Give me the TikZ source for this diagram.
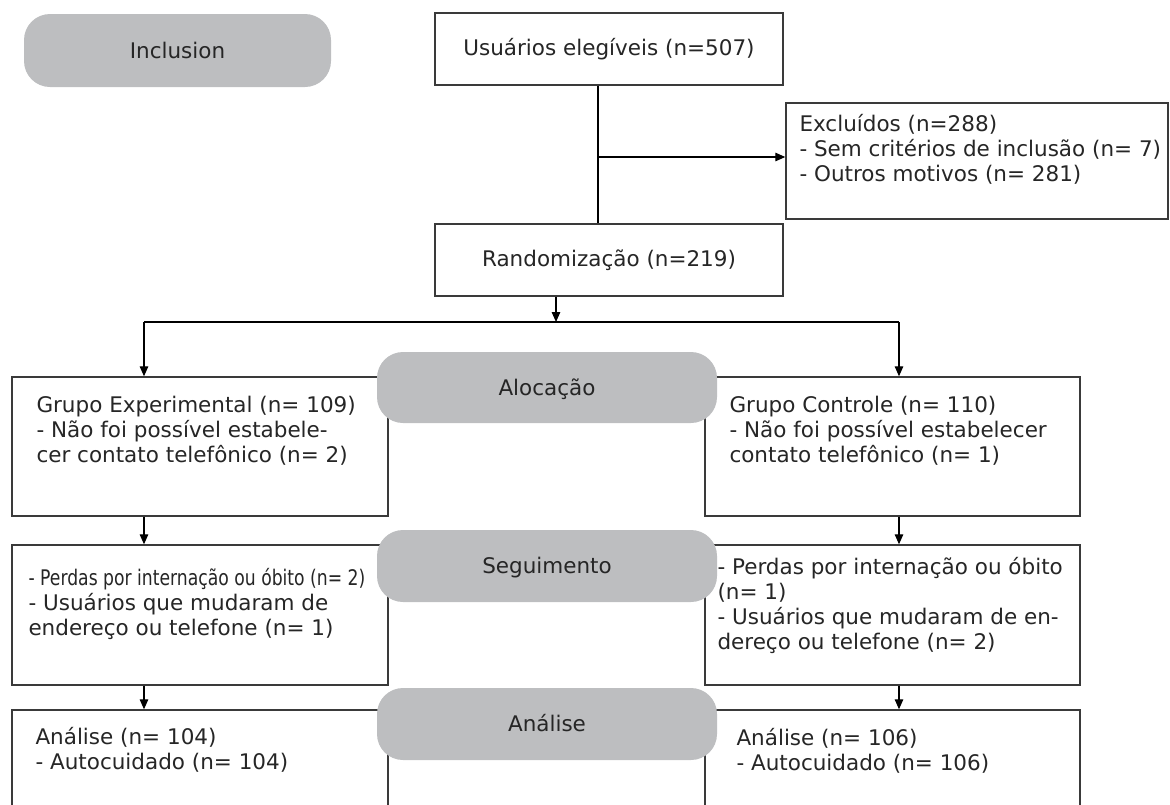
\documentclass[tikz,border=0pt]{standalone}
\usepackage{fontspec}
\setmainfont{DejaVu Sans}
\usepackage{graphicx}
\usetikzlibrary{arrows.meta,positioning}
\definecolor{pillgray}{HTML}{BDBEC0}
\definecolor{inkgray}{HTML}{3A3A3A}
\definecolor{txtgray}{HTML}{262626}
\newcommand{\flowfont}{\fontsize{21.5}{25}\selectfont}
\tikzset{
  box_n/.style = {draw=inkgray, line width=1.4pt, fill=white, inner sep=0pt,
    text=txtgray, font=\flowfont},
  pill_n/.style = {fill=pillgray, rounded corners=26pt, inner sep=0pt,
    text=txtgray, font=\flowfont, text height=18pt, text depth=3pt},
  note_n/.style = {anchor=north west, inner sep=0pt, align=left, text=txtgray,
    font=\flowfont, execute at begin node={\rule{0pt}{20pt}}},
  conn/.style = {draw=black, line width=1.3pt}}

\begin{document}
\begin{tikzpicture}[x=1pt, y=-1pt, >={Triangle[length=10pt,width=8.5pt]}]
\useasboundingbox (0,0) rectangle (1170,804);

\node [box_n, minimum width=348pt, minimum height=72pt] (elig) at (609,49) {Usuários elegíveis (n=507)};
\node [box_n, minimum width=382pt, minimum height=116pt] (excl) at (977,161) {};
\node [box_n, minimum width=348pt, minimum height=72pt] (rand) at (609,260) {Randomização (n=219)};

\node [box_n, minimum width=376pt, minimum height=139pt] (gexp) at (200,446.5) {};
\node [box_n, minimum width=375pt, minimum height=139pt] (gctl) at (892.5,446.5) {};
\node [box_n, minimum width=376pt, minimum height=140pt] (pexp) at (200,615) {};
\node [box_n, minimum width=375pt, minimum height=140pt] (pctl) at (892.5,615) {};
\node [box_n, minimum width=376pt, minimum height=140pt] (aexp) at (200,780) {};
\node [box_n, minimum width=375pt, minimum height=140pt] (actl) at (892.5,780) {};

\node [note_n, below right=12pt and 14pt of excl.north west] (excl_t)
  {Excluídos (n=288)\\- Sem critérios de inclusão (n= 7)\\- Outros motivos (n= 281)};
\node [note_n, below right=20pt and 25pt of gexp.north west] (gexp_t)
  {Grupo Experimental (n= 109)\\- Não foi possível estabele-\\cer contato telefônico (n= 2)};
\node [note_n, below right=20pt and 25pt of gctl.north west] (gctl_t)
  {Grupo Controle (n= 110)\\- Não foi possível estabelecer\\contato telefônico (n= 1)};
\node [note_n, below right=24pt and 17pt of pexp.north west] (pexp_t)
  {\scalebox{0.8}[1]{- Perdas por internação ou óbito (n= 2)}\\- Usuários que mudaram de\\endereço ou telefone (n= 1)};
\node [note_n, below right=13pt and 13pt of pctl.north west] (pctl_t)
  {- Perdas por internação ou óbito\\(n= 1)\\- Usuários que mudaram de en-\\dereço ou telefone (n= 2)};
\node [note_n, below right=18pt and 24pt of aexp.north west] (aexp_t)
  {Análise (n= 104)\\- Autocuidado (n= 104)};
\node [note_n, below right=19pt and 32pt of actl.north west] (actl_t)
  {Análise (n= 106)\\- Autocuidado (n= 106)};

\coordinate (split) at (598,157);
\coordinate (fork) at (556,322);
\coordinate (lbr) at (144,322);
\coordinate (rbr) at (899,322);

\draw [conn] (elig.south -| split) -- (rand.north -| split);
\draw [conn,->] (split) -- (split -| excl.west);
\draw [conn,->] (rand.south -| fork) -- (fork);
\draw [conn] (lbr) -- (rbr);
\draw [conn,->] (lbr) -- (lbr |- gexp.north);
\draw [conn,->] (rbr) -- (rbr |- gctl.north);
\draw [conn,->] (gexp.south -| lbr) -- (pexp.north -| lbr);
\draw [conn,->] (gctl.south -| rbr) -- (pctl.north -| rbr);
\draw [conn,->] (pexp.south -| lbr) -- (aexp.north -| lbr);
\draw [conn,->] (pctl.south -| rbr) -- (actl.north -| rbr);

\node [pill_n, minimum width=307pt, minimum height=73pt] (incl) at (177.5,50.5) {Inclusion};
\node [pill_n, minimum width=340pt, minimum height=71pt] (aloc) at (547,387.5) {Alocação};
\node [pill_n, minimum width=340pt, minimum height=72pt] (segu) at (547,566) {Seguimento};
\node [pill_n, minimum width=340pt, minimum height=72pt] (anal) at (547,724) {Análise};
\end{tikzpicture}
\end{document}
